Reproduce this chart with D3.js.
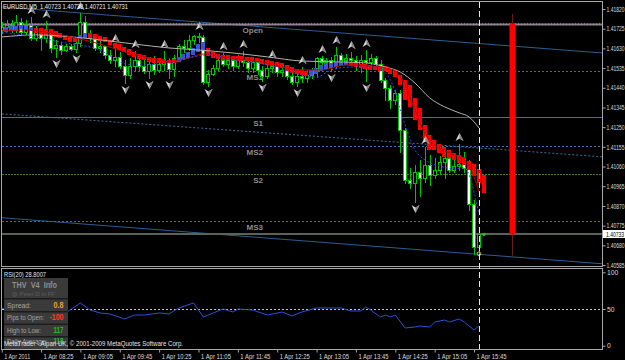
<!DOCTYPE html>
<html>
<head>
<meta charset="utf-8">
<script src="https://cdn.jsdelivr.net/npm/d3@7/dist/d3.min.js"></script>
<style>
html,body{margin:0;padding:0;background:#000;overflow:hidden;}
svg{display:block;font-family:"Liberation Sans",Arial,sans-serif;}
</style>
</head>
<body>
<svg id="chart" width="625" height="360"></svg>
<script>
// ---------- DATA ----------
const barOpen = [1.41719,1.41733,1.41743,1.41719,1.41757,1.41709,1.41743,1.41680,1.41709,1.41680,
1.41704,1.41632,1.41647,1.41622,1.41642,1.41627,1.41656,1.41757,1.41695,1.41680,
1.41632,1.41642,1.41598,1.41574,1.41589,1.41545,1.41502,1.41545,1.41574,1.41545,
1.41521,1.41555,1.41526,1.41555,1.41565,1.41531,1.41584,1.41642,1.41632,1.41671,
1.41690,1.41685,1.41468,1.41507,1.41536,1.41574,1.41555,1.41574,1.41545,1.41574,
1.41565,1.41536,1.41565,1.41526,1.41497,1.41536,1.41545,1.41516,1.41526,1.41497,
1.41468,1.41497,1.41487,1.41502,1.41526,1.41584,1.41565,1.41574,1.41555,1.41598,
1.41574,1.41584,1.41574,1.41545,1.41574,1.41565,1.41584,1.41555,1.41478,1.41439,
1.41381,1.41415,1.41237,1.40996,1.40981,1.41034,1.41005,1.41068,1.41020,1.41044,
1.41083,1.41102,1.41044,1.41063,1.41073,1.41054,1.40880,1.40673];
const barHigh = [1.41757,1.41767,1.41767,1.41791,1.41777,1.41767,1.41782,1.41738,1.41728,1.41762,
1.41719,1.41671,1.41661,1.41651,1.41651,1.41671,1.41801,1.41786,1.41719,1.41700,
1.41671,1.41642,1.41622,1.41647,1.41613,1.41574,1.41584,1.41618,1.41598,1.41574,
1.41584,1.41594,1.41584,1.41618,1.41584,1.41598,1.41651,1.41671,1.41695,1.41695,
1.41704,1.41695,1.41526,1.41550,1.41594,1.41608,1.41589,1.41584,1.41598,1.41618,
1.41584,1.41584,1.41574,1.41545,1.41555,1.41569,1.41555,1.41545,1.41536,1.41516,
1.41516,1.41540,1.41526,1.41536,1.41589,1.41594,1.41584,1.41589,1.41637,1.41608,
1.41603,1.41613,1.41594,1.41598,1.41622,1.41603,1.41594,1.41574,1.41487,1.41454,
1.41430,1.41430,1.41246,1.41054,1.41068,1.41092,1.41155,1.41116,1.41102,1.41111,
1.41131,1.41140,1.41102,1.41169,1.41131,1.41092,1.40899,1.40745];
const barLow = [1.41704,1.41719,1.41709,1.41709,1.41700,1.41700,1.41671,1.41671,1.41622,1.41661,
1.41613,1.41589,1.41603,1.41618,1.41622,1.41613,1.41642,1.41685,1.41661,1.41622,
1.41613,1.41584,1.41560,1.41545,1.41536,1.41463,1.41487,1.41526,1.41526,1.41512,
1.41487,1.41507,1.41516,1.41526,1.41487,1.41497,1.41574,1.41613,1.41622,1.41651,
1.41661,1.41458,1.41449,1.41502,1.41526,1.41545,1.41536,1.41526,1.41536,1.41545,
1.41516,1.41516,1.41507,1.41473,1.41487,1.41516,1.41497,1.41497,1.41483,1.41458,
1.41449,1.41468,1.41468,1.41487,1.41492,1.41555,1.41545,1.41521,1.41536,1.41560,
1.41565,1.41555,1.41526,1.41516,1.41473,1.41545,1.41536,1.41468,1.41381,1.41343,
1.41362,1.41131,1.40981,1.40957,1.40890,1.40919,1.40986,1.40972,1.41005,1.41025,
1.41005,1.41034,1.41034,1.41044,1.41034,1.40851,1.40639,1.40639];
const barClose = [1.41733,1.41743,1.41719,1.41757,1.41709,1.41743,1.41680,1.41709,1.41680,1.41704,
1.41632,1.41647,1.41622,1.41642,1.41627,1.41656,1.41757,1.41695,1.41680,1.41632,
1.41642,1.41598,1.41574,1.41589,1.41545,1.41502,1.41545,1.41574,1.41545,1.41521,
1.41555,1.41526,1.41555,1.41565,1.41531,1.41584,1.41642,1.41632,1.41671,1.41690,
1.41685,1.41468,1.41507,1.41536,1.41574,1.41555,1.41574,1.41545,1.41574,1.41565,
1.41536,1.41565,1.41526,1.41497,1.41536,1.41545,1.41516,1.41526,1.41497,1.41468,
1.41497,1.41487,1.41502,1.41526,1.41584,1.41565,1.41574,1.41555,1.41598,1.41574,
1.41584,1.41574,1.41545,1.41574,1.41565,1.41584,1.41555,1.41478,1.41439,1.41381,
1.41415,1.41237,1.40996,1.40981,1.41034,1.41005,1.41068,1.41020,1.41044,1.41083,
1.41102,1.41044,1.41063,1.41073,1.41054,1.40880,1.40673,1.40733];

const haOpen = [1.41709,1.41714,1.41719,1.41724,1.41719,1.41714,1.41728,1.41728,1.41724,1.41724,
1.41714,1.41704,1.41695,1.41685,1.41680,1.41675,1.41680,1.41704,1.41700,1.41690,
1.41685,1.41671,1.41656,1.41651,1.41637,1.41627,1.41613,1.41603,1.41598,1.41589,
1.41584,1.41584,1.41579,1.41574,1.41579,1.41565,1.41574,1.41584,1.41598,1.41613,
1.41622,1.41632,1.41613,1.41603,1.41598,1.41598,1.41594,1.41594,1.41594,1.41589,
1.41589,1.41584,1.41579,1.41574,1.41569,1.41565,1.41560,1.41550,1.41540,1.41531,
1.41526,1.41521,1.41502,1.41507,1.41521,1.41531,1.41536,1.41540,1.41545,1.41550,
1.41565,1.41560,1.41555,1.41555,1.41550,1.41545,1.41545,1.41545,1.41536,1.41526,
1.41502,1.41478,1.41454,1.41391,1.41343,1.41261,1.41213,1.41189,1.41169,1.41155,
1.41140,1.41126,1.41116,1.41107,1.41087,1.41073,1.41049,1.41020];
const haClose = [1.41733,1.41738,1.41738,1.41743,1.41738,1.41733,1.41704,1.41695,1.41695,1.41695,
1.41685,1.41680,1.41671,1.41661,1.41661,1.41695,1.41704,1.41680,1.41671,1.41666,
1.41661,1.41647,1.41632,1.41622,1.41613,1.41598,1.41589,1.41579,1.41574,1.41565,
1.41560,1.41560,1.41560,1.41560,1.41560,1.41589,1.41603,1.41613,1.41632,1.41651,
1.41661,1.41594,1.41584,1.41579,1.41574,1.41574,1.41574,1.41569,1.41569,1.41569,
1.41565,1.41565,1.41555,1.41550,1.41545,1.41540,1.41536,1.41521,1.41512,1.41507,
1.41502,1.41497,1.41526,1.41536,1.41550,1.41560,1.41560,1.41565,1.41569,1.41569,
1.41545,1.41540,1.41536,1.41531,1.41526,1.41526,1.41521,1.41521,1.41507,1.41492,
1.41454,1.41381,1.41348,1.41285,1.41237,1.41179,1.41140,1.41140,1.41126,1.41107,
1.41102,1.41092,1.41078,1.41068,1.41044,1.41015,1.40981,1.40933];

const grayMaBar = [0,7,12,20,27,34,40,47,54,61,68,74,78,81,84,87,90,93,95,97];
const grayMaVal = [1.41685,1.41695,1.41690,1.41671,1.41651,1.41632,1.41622,1.41608,1.41589,1.41569,
1.41565,1.41560,1.41540,1.41516,1.41463,1.41391,1.41348,1.41319,1.41299,1.41246];
const redMaBar = [0,5,10,15,20,25,30,34,38,41,45,50,55,60,65,70,75,78,80,82,84,86,88,91,94,96,97];
const redMaVal = [1.41714,1.41719,1.41704,1.41680,1.41651,1.41613,1.41584,1.41565,1.41584,1.41603,
1.41589,1.41574,1.41555,1.41526,1.41526,1.41550,1.41545,1.41536,1.41521,1.41454,
1.41333,1.41222,1.41165,1.41126,1.41092,1.41010,1.40938];
const blueMaBar = [0,10,13,20,24,27,34,38,42,47,54,61,64,67,71,76,78,80,81,82,84,86,89,92,94,95,96,97];
const blueMaVal = [1.41709,1.41671,1.41656,1.41622,1.41565,1.41550,1.41560,1.41584,1.41598,1.41574,
1.41550,1.41502,1.41492,1.41526,1.41540,1.41540,1.41512,1.41420,1.41333,1.41261,
1.41140,1.41092,1.41063,1.41049,1.41054,1.41020,1.40938,1.40832];

const rsiBar = [0,13,16,18,20,22,25,27,29,32,34,36,39,41,43,45,47,48,51,54,57,59,61,64,67,69,71,73,74,75,77,78,79,80,82,84,85,87,88,90,91,93,94,96,97];
const rsiVal = [51,44.6,58.2,48.6,44.6,43.2,36.4,41.8,41.8,44.6,43.2,51.4,58.2,39.1,44.6,50.0,45.9,50.0,48.6,41.8,
45.9,40.5,45.9,51.4,51.4,51.4,47.3,47.3,52.7,48.6,39.1,41.8,39.1,41.8,24.1,25.5,26.8,25.5,32.3,35.0,
32.3,36.4,32.3,21.4,27.0];

const fractalUp = [6,9,16,23,27,33,40,45,49,55,61,65,68,71,74,86,93];
const fractalDown = [11,15,25,30,34,42,53,60,67,74,84];

const levelNames = ["Open","MS1","S1","MS2","S2","MS3"];
const levelValues = [1.41748,1.41521,1.41300,1.41160,1.41023,1.40798];

const trendStart = [1.41830,1.41314,1.40813];   // at bar 0
const trendEnd = [1.41608,1.41107,1.40591];     // at bar 122

const priceTicks = [1.41820,1.41725,1.41630,1.41535,1.41440,1.41345,1.41250,1.41155,1.41060,1.40965,1.40870,1.40775,1.40680,1.40585];
const rsiTicks = [0,50,100];
const timeLabels = ["1 Apr 2011","1 Apr 08:25","1 Apr 09:05","1 Apr 09:45","1 Apr 10:25","1 Apr 11:05","1 Apr 11:45","1 Apr 12:25","1 Apr 13:05","1 Apr 13:45","1 Apr 14:25","1 Apr 15:05","1 Apr 15:45"];

const dailyOpen = 1.41748, dailyHigh = 1.41796, dailyLow = 1.40630, dailyClose = 1.40733;
const currentPrice = 1.40733;

const infoLabels = ["Spread:","Pips to Open:","High to Low:","Daily Average:"];
const infoValues = ["0.8","-100","117","118"];

// ---------- DRAW ----------
const W = 625, H = 360;
const L = 1.5, R = 602.5, T = 1.5, MB = 266.5, RT = 268.5, RB = 349.5;
const svg = d3.select("#chart");
const x = d3.scaleLinear().domain([0,122]).range([1.7,601.94]);
const y = d3.scaleLinear().domain([1.40585,1.41820]).range([265,9]);
const yr = d3.scaleLinear().domain([0,100]).range([345.7,272.3]);

svg.append("rect").attr("width",W).attr("height",H).attr("fill","#000");
const defs = svg.append("defs");
defs.append("clipPath").attr("id","cm").append("rect").attr("x",2).attr("y",2).attr("width",600).attr("height",264);
defs.append("clipPath").attr("id","cr").append("rect").attr("x",2).attr("y",269).attr("width",600).attr("height",80);

const gm = svg.append("g").attr("clip-path","url(#cm)");

// trend channel lines
trendStart.forEach((p,k)=>{
  gm.append("line").attr("x1",x(0)).attr("x2",x(122)).attr("y1",y(p)).attr("y2",y(trendEnd[k]))
    .attr("stroke", k===1 ? "#3a70aa" : "#2c5e94").attr("stroke-width",1)
    .attr("stroke-dasharray", k===1 ? "2,2" : null);
});

// pivot levels
const levelColor = ["#8a7e8c","#686828","#5a7632","#3a72b4","#4e7a28","#686828"];
const levelDash = [null,"2,2",null,"2,2","2,1","2,2"];
levelValues.forEach((v,k)=>{
  const yy = Math.round(y(v)) + 0.5;
  gm.append("line").attr("x1",2).attr("x2",602).attr("y1",yy).attr("y2",yy)
    .attr("stroke",levelColor[k]).attr("stroke-width",k===0?2:1).attr("stroke-dasharray",levelDash[k]);
  if (k===0) {
    gm.append("line").attr("x1",2).attr("x2",602).attr("y1",yy-0.5).attr("y2",yy-0.5)
      .attr("stroke","#c898c0").attr("stroke-width",1).attr("stroke-dasharray","1,2");
  }
  gm.append("text").attr("x",263).attr("y",yy+8.5).attr("text-anchor","end")
    .attr("fill","#8c8c8c").attr("font-size",8).attr("font-weight","bold").text(levelNames[k]);
});

// current price line
const cpy = Math.round(y(currentPrice));
gm.append("line").attr("x1",2).attr("x2",602).attr("y1",cpy).attr("y2",cpy)
  .attr("stroke","#58645a").attr("stroke-width",2);

// daily candle
const dx = Math.round(x(97)) + 33;
gm.append("line").attr("x1",dx+0.5).attr("x2",dx+0.5).attr("y1",y(dailyHigh)).attr("y2",y(dailyLow))
  .attr("stroke","#6a1c18").attr("stroke-width",1);
gm.append("rect").attr("x",dx-2.5).attr("y",y(dailyOpen)).attr("width",6)
  .attr("height",y(dailyClose)-y(dailyOpen)).attr("fill","#ff0000");

const lineGen = d3.line().x(d=>x(d[0])).y(d=>y(d[1])).curve(d3.curveMonotoneX);

// candles
const green = "#00c400";
const cg = gm.append("g");
barOpen.forEach((o,i)=>{
  const c = barClose[i];
  const cx = Math.round(x(i)) - 2;
  cg.append("line").attr("x1",cx+2.5).attr("x2",cx+2.5)
    .attr("y1",Math.round(y(barHigh[i]))).attr("y2",Math.round(y(barLow[i]))+1)
    .attr("stroke",green).attr("stroke-width",1);
  const top = Math.round(y(Math.max(o,c)));
  const bot = Math.round(y(Math.min(o,c)));
  cg.append("rect").attr("x",cx+0.5).attr("y",top+0.5).attr("width",3).attr("height",Math.max(1,bot-top))
    .attr("fill", c >= o ? "#000" : "#ffffff").attr("stroke",green).attr("stroke-width",1);
});

// Heiken Ashi boxes
const hg = gm.append("g");
haOpen.forEach((o,i)=>{
  const c = haClose[i];
  const hx = Math.round(x(i)+4.6) - 2;
  const t = Math.round(y(Math.max(o,c))), b = Math.round(y(Math.min(o,c)));
  hg.append("rect").attr("x",hx).attr("y",t).attr("width",4).attr("height",Math.max(2,b-t))
    .attr("fill", c < o ? "#ff0000" : "#3a54d8");
});

// slow gray MA, red MA & blue dotted MA
gm.append("path").datum(d3.zip(grayMaBar,grayMaVal)).attr("d",lineGen)
  .attr("fill","none").attr("stroke","#b6b2a6").attr("stroke-width",1);
gm.append("path").datum(d3.zip(redMaBar,redMaVal)).attr("d",lineGen)
  .attr("fill","none").attr("stroke","#c80000").attr("stroke-width",1);
gm.append("path").datum(d3.zip(blueMaBar,blueMaVal)).attr("d",lineGen)
  .attr("fill","none").attr("stroke","#2a4cff").attr("stroke-width",1).attr("stroke-dasharray","2,2");

// fractals
const fg = gm.append("g");
fractalUp.forEach(i=>{
  const g = fg.append("g").attr("transform",`translate(${Math.round(x(i))+0.5},${Math.round(y(barHigh[i]))-7})`);
  g.append("path").attr("d","M0,-4L4,4L0,1.5L-4,4Z").attr("fill","#d8d8d8");
  g.append("path").attr("d","M0,-4L4,4L0,1.5Z").attr("fill","#808080");
});
fractalDown.forEach(i=>{
  const g = fg.append("g").attr("transform",`translate(${Math.round(x(i))+0.5},${Math.round(y(barLow[i]))+7})`);
  g.append("path").attr("d","M0,4L4,-4L0,-1.5L-4,-4Z").attr("fill","#d8d8d8");
  g.append("path").attr("d","M0,4L4,-4L0,-1.5Z").attr("fill","#808080");
});

// small markers at the last bar
gm.append("circle").attr("cx",x(97)).attr("cy",y(barLow[97])).attr("r",1.8)
  .attr("fill","none").attr("stroke","#c8c850").attr("stroke-width",1);
gm.append("circle").attr("cx",x(97)+5).attr("cy",y(currentPrice)).attr("r",1.6).attr("fill","#30c030");

// title
svg.append("text").attr("x",3).attr("y",8.5).attr("fill","#f0f0f0").attr("font-size",7)
  .attr("textLength",125).attr("lengthAdjust","spacingAndGlyphs").style("white-space","pre")
  .text("EURUSD,M5  1.40723 1.40738 1.40721 1.40731");

// ---------- RSI pane ----------
const gr = svg.append("g").attr("clip-path","url(#cr)");
gr.append("line").attr("x1",2).attr("x2",602).attr("y1",Math.round(yr(50))+0.5).attr("y2",Math.round(yr(50))+0.5)
  .attr("stroke","#c8c8c8").attr("stroke-dasharray","2,2");
gr.append("path").datum(d3.zip(rsiBar,rsiVal))
  .attr("d",d3.line().x(d=>x(d[0])).y(d=>yr(d[1])))
  .attr("fill","none").attr("stroke","#2a52d8").attr("stroke-width",1);

svg.append("text").attr("x",4).attr("y",277).attr("fill","#e6e6e6").attr("font-size",6.5)
  .attr("textLength",42).attr("lengthAdjust","spacingAndGlyphs").text("RSI(20) 28.8007");

// info panel
const ip = svg.append("g");
ip.append("rect").attr("x",4).attr("y",278).attr("width",64).attr("height",72).attr("fill","#3a3a3a");
[298,311,323.5,336].forEach(s=>{
  ip.append("rect").attr("x",4).attr("y",s).attr("width",64).attr("height",1.5).attr("fill","#1c1c1c");
});
ip.append("text").attr("x",12).attr("y",288).attr("fill","#8e8e8e").attr("font-size",8.5).attr("font-weight","bold")
  .attr("textLength",45).attr("lengthAdjust","spacingAndGlyphs").style("white-space","pre").text("THV  V4  Info");
ip.append("text").attr("x",12).attr("y",296).attr("fill","#5e5e5e").attr("font-size",6)
  .attr("textLength",43).attr("lengthAdjust","spacingAndGlyphs").text("@ Peter D in FF");
const rowBase = [307.5,320,332.5,343.5];
const rowLen = [24,37,34,40];
const valLen = [10,14,10,10];
const valColor = ["#f0a020","#ff3c1e","#2cb42c","#2cb42c"];
infoLabels.forEach((t,k)=>{
  ip.append("text").attr("x",7).attr("y",rowBase[k]).attr("fill","#a4a4a4").attr("font-size",7)
    .attr("textLength",rowLen[k]).attr("lengthAdjust","spacingAndGlyphs").text(t);
  ip.append("text").attr("x",63.5-valLen[k]).attr("y",rowBase[k]).attr("fill",valColor[k])
    .attr("font-size",8.5).attr("font-weight","bold")
    .attr("textLength",valLen[k]).attr("lengthAdjust","spacingAndGlyphs").text(infoValues[k]);
});
svg.append("text").attr("x",4).attr("y",346).attr("fill","#e4e4e4").attr("font-size",7)
  .attr("textLength",179).attr("lengthAdjust","spacingAndGlyphs")
  .text("MetaTrader - Alpari UK, \u00a9 2001-2009 MetaQuotes Software Corp.");

// ---------- frames ----------
svg.append("rect").attr("x",L).attr("y",T).attr("width",R-L).attr("height",MB-T)
  .attr("fill","none").attr("stroke","#a8a8a8");
svg.append("rect").attr("x",L).attr("y",RT).attr("width",R-L).attr("height",RB-RT)
  .attr("fill","none").attr("stroke","#a8a8a8");

// current-bar dashed line
svg.append("line").attr("x1",Math.round(x(97))+0.5).attr("x2",Math.round(x(97))+0.5).attr("y1",2).attr("y2",349)
  .attr("stroke","#e8e8e8").attr("stroke-width",1).attr("stroke-dasharray","6,3");

// ---------- axes ----------
function styleAxis(g, size){
  g.select(".domain").remove();
  g.selectAll(".tick line").attr("stroke","#a8a8a8");
  g.selectAll("text").attr("fill","#dcdcdc").attr("font-size",size).attr("font-family","Liberation Sans, Arial, sans-serif");
}
const ya = svg.append("g").attr("transform",`translate(${R},0)`)
  .call(d3.axisRight(y).tickValues(priceTicks).tickFormat(d3.format(".5f")).tickSize(3).tickPadding(1));
styleAxis(ya, 6.8);
ya.selectAll("text").attr("textLength",18).attr("lengthAdjust","spacingAndGlyphs");

// current price label
svg.append("rect").attr("x",603).attr("y",cpy-4).attr("width",22).attr("height",8).attr("fill","#ffffff");
svg.append("text").attr("x",606).attr("y",cpy+2.5).attr("fill","#000").attr("font-size",6.8)
  .attr("textLength",18).attr("lengthAdjust","spacingAndGlyphs").text(d3.format(".5f")(currentPrice));

const ra = svg.append("g").attr("transform",`translate(${R},0)`)
  .call(d3.axisRight(yr).tickValues(rsiTicks).tickFormat(d3.format("d")).tickSize(3).tickPadding(1.5));
styleAxis(ra, 6.8);

const tickBars = timeLabels.map((t,i)=>i*8);
const xa = svg.append("g").attr("transform",`translate(0,${RB})`)
  .call(d3.axisBottom(x).tickValues(tickBars).tickFormat((d,i)=>timeLabels[i]).tickSize(3).tickPadding(2));
styleAxis(xa, 7);
xa.selectAll("text").attr("text-anchor","start").attr("x",2)
  .attr("textLength",(d,i)=> i===0 ? 26 : 30).attr("lengthAdjust","spacingAndGlyphs");
</script>
</body>
</html>
